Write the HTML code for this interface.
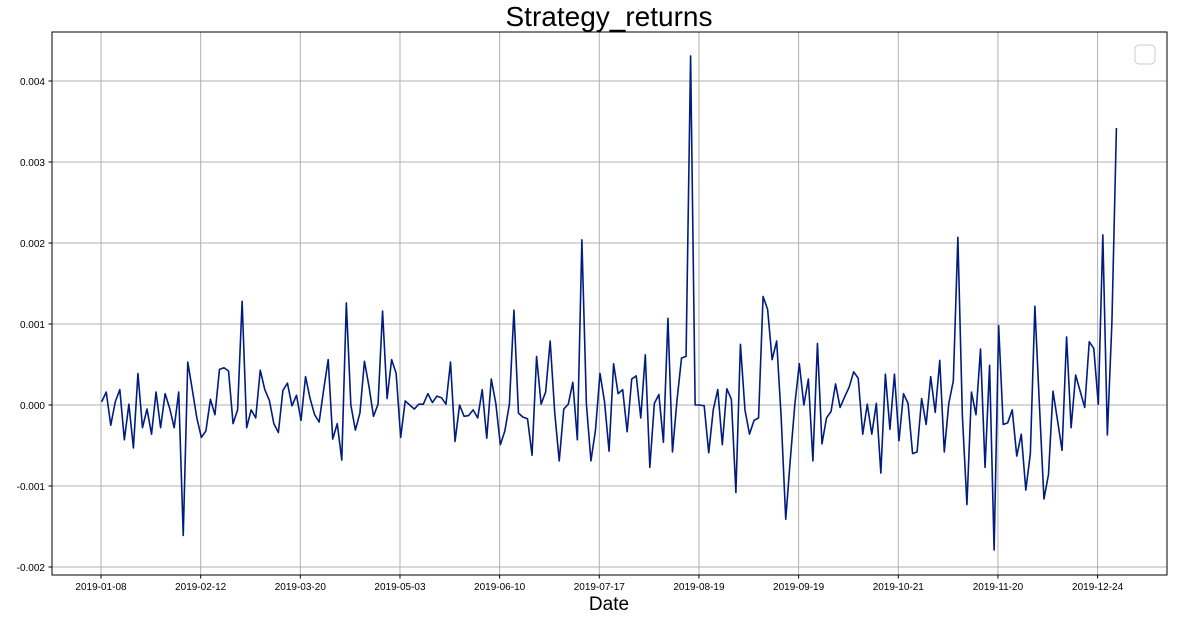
<!DOCTYPE html>
<html><head><meta charset="utf-8"><style>
body{margin:0;background:#fff;}
svg{display:block;font-family:"Liberation Sans",sans-serif;}
</style></head><body>
<svg id="chart" width="1177" height="621" xmlns="http://www.w3.org/2000/svg">
<text x="609" y="26" text-anchor="middle" font-size="28" fill="#000">Strategy_returns</text>
<text x="609" y="610" text-anchor="middle" font-size="19" fill="#000">Date</text>
<g id="grid"></g>
<g id="ticks"></g>
<path id="line" fill="none" stroke="#001c7f" stroke-width="1.6" stroke-linejoin="round"/>
<rect x="52" y="32" width="1115" height="543" fill="none" stroke="#000" stroke-width="1"/>
<rect x="1135" y="45" width="20" height="19" rx="4" fill="#fff" stroke="#ccc"/>
</svg>
<script>
const returnsThousandths = [
0.04,0.16,-0.25,0.04,0.19,-0.43,0.01,-0.53,0.39,-0.28,-0.05,-0.36,0.16,-0.28,0.14,-0.04,-0.28,0.16,-1.61,0.53,0.19,-0.16,-0.40,-0.32,0.07,-0.12,0.44,0.46,0.42,-0.23,-0.06,1.28,-0.28,-0.06,-0.16,0.43,0.19,0.06,-0.23,-0.34,0.18,0.27,-0.01,
0.12,-0.19,0.35,0.08,-0.12,-0.21,0.19,0.56,-0.42,-0.23,-0.68,1.26,0.00,-0.31,-0.10,0.54,0.23,-0.14,0.01,1.16,0.08,0.56,0.39,-0.40,0.05,0.00,-0.05,0.01,0.01,0.14,0.03,0.11,0.09,0.01,0.53,-0.45,0.00,-0.14,-0.13,-0.06,-0.16,0.19,-0.41,
0.32,0.02,-0.49,-0.32,0.01,1.17,-0.10,-0.15,-0.17,-0.62,0.60,0.01,0.16,0.79,-0.09,-0.69,-0.05,0.01,0.28,-0.43,2.04,0.01,-0.69,-0.31,0.39,0.04,-0.57,0.51,0.14,0.19,-0.33,0.32,0.36,-0.16,0.62,-0.77,0.02,0.13,-0.46,1.07,-0.58,0.06,0.58,
0.60,4.31,0.00,0.00,-0.01,-0.59,-0.06,0.19,-0.49,0.20,0.07,-1.08,0.75,-0.06,-0.36,-0.19,-0.16,1.34,1.18,0.56,0.79,-0.16,-1.41,-0.68,0.00,0.51,0.00,0.32,-0.69,0.76,-0.48,-0.16,-0.08,0.26,-0.03,0.10,0.22,0.41,0.33,-0.36,0.01,-0.36,0.02,
-0.84,0.38,-0.30,0.38,-0.44,0.14,0.02,-0.60,-0.58,0.08,-0.24,0.35,-0.09,0.55,-0.58,0.02,0.30,2.07,-0.14,-1.23,0.16,-0.12,0.69,-0.77,0.49,-1.79,0.98,-0.24,-0.22,-0.06,-0.63,-0.36,-1.05,-0.60,1.22,0.00,-1.16,-0.86,0.17,-0.19,-0.56,0.84,-0.28,
0.37,0.17,-0.03,0.78,0.70,0.01,2.10,-0.37,1.01,3.42];
const xTickLabels = ['2019-01-08','2019-02-12','2019-03-20','2019-05-03','2019-06-10','2019-07-17','2019-08-19','2019-09-19','2019-10-21','2019-11-20','2019-12-24'];
const xTickIndex = [0,22,44,66,88,110,132,154,176,198,220];
const yTickValues = [-0.002,-0.001,0.000,0.001,0.002,0.003,0.004];

const NS='http://www.w3.org/2000/svg';
const xScale = i => 101.7 + i*4.53;
const yScale = v => 405 - v*81000;
const grid=document.getElementById('grid'), ticks=document.getElementById('ticks');
function mk(tag,attrs,parent){const e=document.createElementNS(NS,tag);for(const k in attrs)e.setAttribute(k,attrs[k]);parent.appendChild(e);return e;}
yTickValues.forEach(v=>{
  const y=yScale(v);
  const g=mk('line',{x1:52,x2:1167,y1:y,y2:y,stroke:'#b0b0b0','stroke-width':1},grid);
  
  
  mk('line',{x1:48.5,x2:52,y1:y,y2:y,stroke:'#000'},ticks);
  const t=mk('text',{x:45,y:y+4,'text-anchor':'end','font-size':10,fill:'#000'},ticks);
  
  
  t.textContent=v.toFixed(3);
});
xTickIndex.forEach((idx,k)=>{
  const x=xScale(idx)-0.7;
  const g=mk('line',{x1:x,x2:x,y1:32,y2:575,stroke:'#b0b0b0','stroke-width':1},grid);
  
  
  mk('line',{x1:x,x2:x,y1:575,y2:578.5,stroke:'#000'},ticks);
  const t=mk('text',{x:x,y:590,'text-anchor':'middle','font-size':10,fill:'#000'},ticks);
  
  
  t.textContent=xTickLabels[k];
});
document.getElementById('line').setAttribute('d',returnsThousandths.map((v,i)=>(i?'L':'M')+xScale(i).toFixed(2)+','+yScale(v/1000).toFixed(2)).join(''));
</script>
</body></html>
